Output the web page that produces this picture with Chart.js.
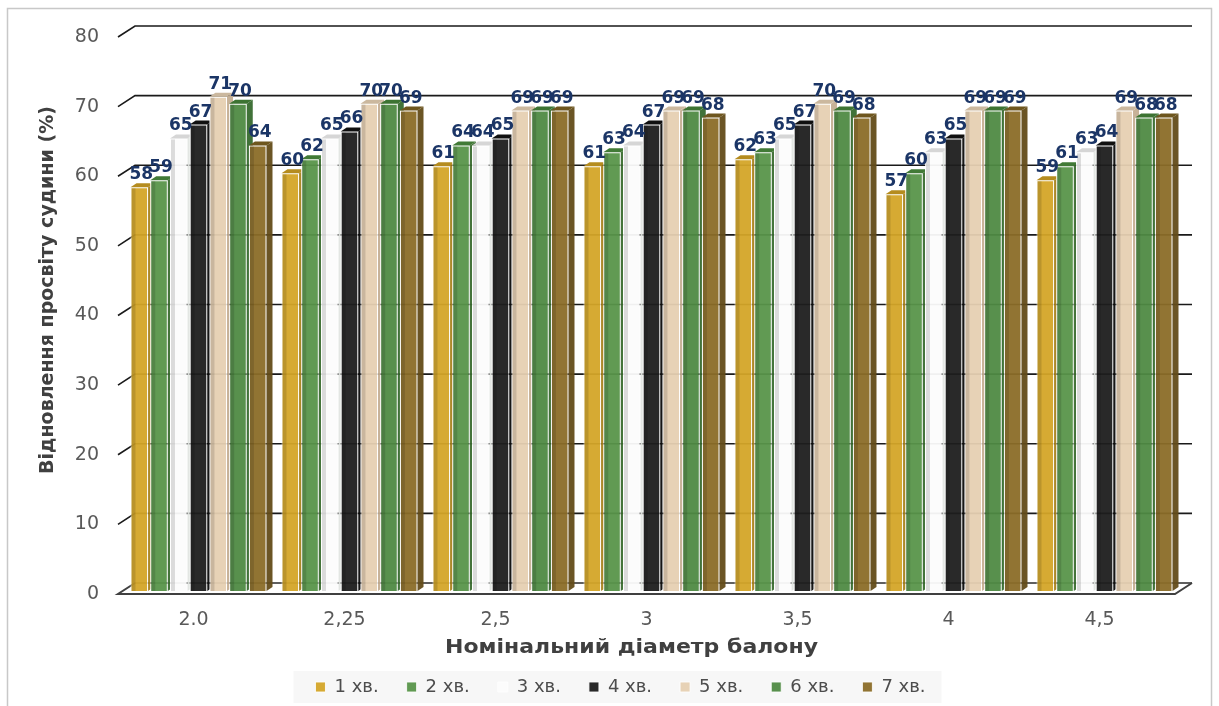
<!DOCTYPE html>
<html>
<head>
<meta charset="utf-8">
<title>Відновлення просвіту судини</title>
<script src="https://cdn.jsdelivr.net/npm/chart.js@4.4.1/dist/chart.umd.min.js"></script>
<style>
  html, body { margin: 0; padding: 0; background: #fff; }
  canvas { display: block; }
</style>
</head>
<body>
<canvas id="chart" width="1219" height="706"></canvas>
<script>
// ---- data ----
const categories = ["2.0", "2,25", "2,5", "3", "3,5", "4", "4,5"];
const seriesNames = ["1 хв.", "2 хв.", "3 хв.", "4 хв.", "5 хв.", "6 хв.", "7 хв."];

const min1 = [58, 60, 61, 61, 62, 57, 59];
const min2 = [59, 62, 64, 63, 63, 60, 61];
const min3 = [65, 65, 64, 64, 65, 63, 63];
const min4 = [67, 66, 65, 67, 67, 65, 64];
const min5 = [71, 70, 69, 69, 70, 69, 69];
const min6 = [70, 70, 69, 69, 69, 69, 68];
const min7 = [64, 69, 69, 68, 68, 69, 68];

const yMin = 0, yMax = 80, yStep = 10;
const xTitle = "Номінальний діаметр балону";
const yTitle = "Відновлення просвіту судини (%)";

// ---- look ----
const series = [min1, min2, min3, min4, min5, min6, min7];
const faceColors = ["#D4A528", "#58954A", "#FCFCFC", "#1E1E1E", "#E6D0B2", "#4F8A43", "#8B6D28"];
const topColors  = ["#B58C1F", "#417A36", "#D6D6D6", "#101010", "#CBB89E", "#3C7332", "#6E561E"];
const sideColors = ["#A8821C", "#3B6D30", "#E1E5E1", "#0A0A0A", "#C4AE92", "#376A2E", "#634C19"];

const FONT = "'DejaVu Sans', 'Liberation Sans', Arial, sans-serif";
const BAR_DX = 5, BAR_DY = -3;     // bars stand a bit behind the front edge
const DEPTH_X = 6, DEPTH_Y = -4;   // bar depth
const WALL_X = 17, WALL_Y = -11;   // back wall offset

function withAlpha(hex, a) {
  const n = parseInt(hex.slice(1), 16);
  return `rgba(${n >> 16}, ${(n >> 8) & 255}, ${n & 255}, ${a})`;
}

/* =========================
   3D box: wall, floor, bar faces
========================= */
const box3d = {
  id: "box3d",
  beforeDraw(chart) {
    const ctx = chart.ctx;
    ctx.save();
    ctx.fillStyle = "#fff";
    ctx.fillRect(0, 0, chart.width, chart.height);
    ctx.strokeStyle = "#c8c8c8";
    ctx.lineWidth = 1.5;
    ctx.strokeRect(7.5, 8.5, chart.width - 15, chart.height);

    // legend panel
    const hb = chart.legend.legendHitBoxes;
    if (hb && hb.length) {
      const l = Math.min(...hb.map((h) => h.left));
      const r = Math.max(...hb.map((h) => h.left + h.width));
      const cy = hb[0].top + hb[0].height / 2;
      ctx.fillStyle = "#f7f7f7";
      ctx.fillRect(l - 22, cy - 16, r - l + 38, 32);
    }
    ctx.restore();
  },
  beforeDatasetsDraw(chart) {
    const ctx = chart.ctx;
    const { left, right } = chart.chartArea;
    const ys = chart.scales.y;

    ctx.save();
    ctx.strokeStyle = "#1a1a1a";
    ctx.lineWidth = 1.6;
    ys.ticks.forEach((t) => {
      if (t.value === yMin) return;
      const yf = ys.getPixelForValue(t.value);
      ctx.beginPath();
      ctx.moveTo(left, yf);
      ctx.lineTo(left + WALL_X, yf + WALL_Y);
      ctx.lineTo(right + WALL_X, yf + WALL_Y);
      ctx.stroke();
    });

    // floor
    const y0 = ys.getPixelForValue(yMin);
    ctx.strokeStyle = "#2a2a2a";
    ctx.beginPath();
    ctx.moveTo(left + WALL_X, y0 + WALL_Y);
    ctx.lineTo(right + WALL_X, y0 + WALL_Y);
    ctx.stroke();
    ctx.strokeStyle = "#404040";
    ctx.lineWidth = 2;
    ctx.beginPath();
    ctx.moveTo(left + WALL_X, y0 + WALL_Y);
    ctx.lineTo(left, y0);
    ctx.lineTo(right, y0);
    ctx.lineTo(right + WALL_X, y0 + WALL_Y);
    ctx.stroke();
    ctx.restore();

    ctx.save();
    ctx.translate(BAR_DX, BAR_DY);
  },
  afterDatasetsDraw(chart) {
    const ctx = chart.ctx;
    const metas = chart.data.datasets.map((_, i) => chart.getDatasetMeta(i));

    // side and top faces, left to right; the next bar's front hides what it covers
    metas.forEach((meta, i) => {
      const next = metas[i + 1];
      meta.data.forEach((bar, j) => {
        const { x, y, base, width } = bar;
        const l = x - width / 2, r = x + width / 2;

        ctx.save();
        ctx.fillStyle = "rgba(0,0,0,0.13)";
        ctx.fillRect(l + 1, y + 1, 4, base - y - 1);

        if (next) {
          const nb = next.data[j];
          ctx.beginPath();
          ctx.rect(-50, -50, chart.width + 100, chart.height + 100);
          ctx.rect(nb.x - nb.width / 2, nb.y, nb.width, nb.base - nb.y);
          ctx.clip("evenodd");
        }

        ctx.fillStyle = withAlpha(sideColors[i], 0.95);
        ctx.beginPath();
        ctx.moveTo(r, y);
        ctx.lineTo(r + DEPTH_X, y + DEPTH_Y);
        ctx.lineTo(r + DEPTH_X, base + DEPTH_Y);
        ctx.lineTo(r, base);
        ctx.closePath();
        ctx.fill();

        ctx.fillStyle = topColors[i];
        ctx.beginPath();
        ctx.moveTo(l, y);
        ctx.lineTo(l + DEPTH_X, y + DEPTH_Y);
        ctx.lineTo(r + DEPTH_X, y + DEPTH_Y);
        ctx.lineTo(r, y);
        ctx.closePath();
        ctx.fill();
        ctx.restore();
      });
    });
    ctx.restore();

    // value labels
    ctx.save();
    ctx.font = `bold 17px ${FONT}`;
    ctx.fillStyle = "#1B3566";
    ctx.textAlign = "center";
    ctx.textBaseline = "alphabetic";
    metas.forEach((meta, i) => {
      meta.data.forEach((bar, j) => {
        ctx.fillText(String(series[i][j]), bar.x + BAR_DX + 2, bar.y + BAR_DY - 8);
      });
    });

    // axis titles
    const { bottom } = chart.chartArea;
    ctx.fillStyle = "#404040";
    ctx.textBaseline = "middle";
    ctx.save();
    ctx.translate(chart.width / 2 + 22, bottom + 54);
    ctx.scale(1.1, 1);
    ctx.font = `bold 20px ${FONT}`;
    ctx.fillText(xTitle, 0, 0);
    ctx.restore();

    ctx.translate(48, 290);
    ctx.rotate(-Math.PI / 2);
    ctx.font = `bold 19px ${FONT}`;
    ctx.fillText(yTitle, 0, 0);
    ctx.restore();
  },
};

new Chart(document.getElementById("chart"), {
  type: "bar",
  data: {
    labels: categories,
    datasets: series.map((data, i) => ({
      label: seriesNames[i],
      data,
      backgroundColor: withAlpha(faceColors[i], 0.95),
      borderColor: "rgba(255,255,255,0.85)",
      borderWidth: 1,
      categoryPercentage: 0.915,
      barPercentage: 0.89,
    })),
  },
  options: {
    responsive: false,
    animation: false,
    devicePixelRatio: 1,
    layout: { padding: { left: 22, right: 0, top: 37, bottom: 0 } },
    plugins: {
      tooltip: { enabled: false },
      legend: {
        position: "bottom",
        labels: {
          boxWidth: 10,
          boxHeight: 10,
          padding: 28,
          color: "#4d4d4d",
          font: { family: FONT, size: 18 },
        },
      },
    },
    scales: {
      x: {
        grid: { display: false, drawTicks: false },
        border: { display: false },
        ticks: { padding: 15, color: "#595959", font: { family: FONT, size: 19 } },
        afterFit: (s) => { s.height = 56; },
      },
      y: {
        min: yMin,
        max: yMax,
        grid: { display: false, drawTicks: false },
        border: { display: false },
        ticks: { stepSize: yStep, padding: 19, color: "#595959", font: { family: FONT, size: 19 } },
        afterFit: (s) => { s.width = 96; },
      },
      yRight: {
        position: "right",
        grid: { display: false, drawTicks: false },
        border: { display: false },
        ticks: { display: false },
        afterFit: (s) => { s.width = 44; },
      },
    },
  },
  plugins: [box3d],
});
</script>
</body>
</html>
